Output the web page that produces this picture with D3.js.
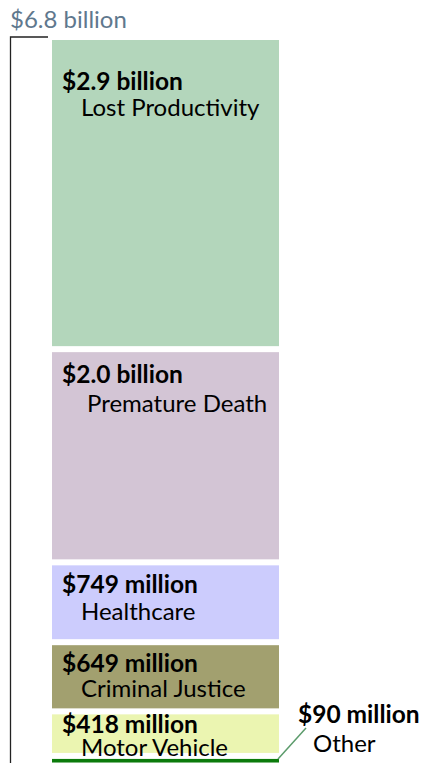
<!DOCTYPE html>
<html>
<head>
<meta charset="utf-8">
<script src="https://cdn.jsdelivr.net/npm/d3@7"></script>
<style>
  html, body { margin: 0; padding: 0; background: #fff; }
  svg { display: block; }
  text { font-family: Lato, "Open Sans", sans-serif; }
</style>
</head>
<body>
<svg id="chart" width="422" height="763"></svg>
<script>
// ---- data ----
const categories = ["Lost Productivity", "Premature Death", "Healthcare", "Criminal Justice", "Motor Vehicle", "Other"];
const values = [2.9, 2.0, 0.749, 0.649, 0.418, 0.09]; // billions
const valueLabels = ["$2.9 billion", "$2.0 billion", "$749 million", "$649 million", "$418 million", "$90 million"];
const totalLabel = "$6.8 billion";
const colors = ["#b3d6bb", "#d3c5d5", "#ccccfd", "#a2a06f", "#ebf5b1", "#0b7b0b"];

// ---- layout (not data) ----
const W = 422, H = 763;
const barX0 = 52, barX1 = 279;
const topY = 40;
const pxPerBillion = 106.6;
const gap = 6;
const fsBold = 24.5, fsReg = 24;
// label offsets: [value baseline from segment top, category baseline from value baseline, category x]
const labelLayout = [
  [50, 26, 81],
  [31, 29, 87],
  [28, 27, 81],
  [27, 25, 81],
  [19, 23, 81]
];

const total = d3.sum(values);
const svg = d3.select("#chart");

const y = d3.scaleLinear()
  .domain([0, total])
  .range([topY + total * pxPerBillion, topY]);

// stack from top: cumulative from top of bar
let acc = 0;
const segs = values.map((v, i) => {
  const s = { i, v, top: total - acc, bottom: total - acc - v };
  acc += v;
  return s;
});

svg.selectAll("rect.seg")
  .data(segs)
  .join("rect")
  .attr("class", "seg")
  .attr("x", barX0)
  .attr("width", barX1 - barX0)
  .attr("y", d => y(d.top) + (d.i === 0 ? 0 : gap / 2))
  .attr("height", d => (y(d.bottom) - y(d.top)) - (d.i === 0 ? gap / 2 : gap))
  .attr("fill", d => colors[d.i]);

// bracket axis
svg.append("path")
  .attr("d", `M48,${y(total) - 3}H10.5V${H + 5}`)
  .attr("fill", "none")
  .attr("stroke", "#222")
  .attr("stroke-width", 1.3);

svg.append("text")
  .attr("x", 10)
  .attr("y", 28)
  .attr("font-size", fsReg)
  .attr("fill", "#5f788e")
  .text(totalLabel);

// labels inside bars
segs.slice(0, 5).forEach(d => {
  const [dv, dc, cx] = labelLayout[d.i];
  const t0 = y(d.top) + (d.i === 0 ? 0 : gap / 2);
  svg.append("text")
    .attr("x", 62)
    .attr("y", t0 + dv)
    .attr("font-size", fsBold)
    .attr("font-weight", "bold")
    .attr("fill", "#000")
    .text(valueLabels[d.i]);
  svg.append("text")
    .attr("x", cx)
    .attr("y", t0 + dv + dc)
    .attr("font-size", fsReg)
    .attr("fill", "#000")
    .text(categories[d.i]);
});

// "Other" callout
const other = segs[5];
const oy = y(other.top) + gap / 2;
svg.append("line")
  .attr("x1", barX1 - 1)
  .attr("y1", oy)
  .attr("x2", 306)
  .attr("y2", oy - 31)
  .attr("stroke", "#5b9b6b")
  .attr("stroke-width", 1.5);
svg.append("text")
  .attr("x", 298)
  .attr("y", 723)
  .attr("font-size", fsBold)
  .attr("font-weight", "bold")
  .text(valueLabels[5]);
svg.append("text")
  .attr("x", 313)
  .attr("y", 752)
  .attr("font-size", fsReg)
  .text(categories[5]);
</script>
</body>
</html>
